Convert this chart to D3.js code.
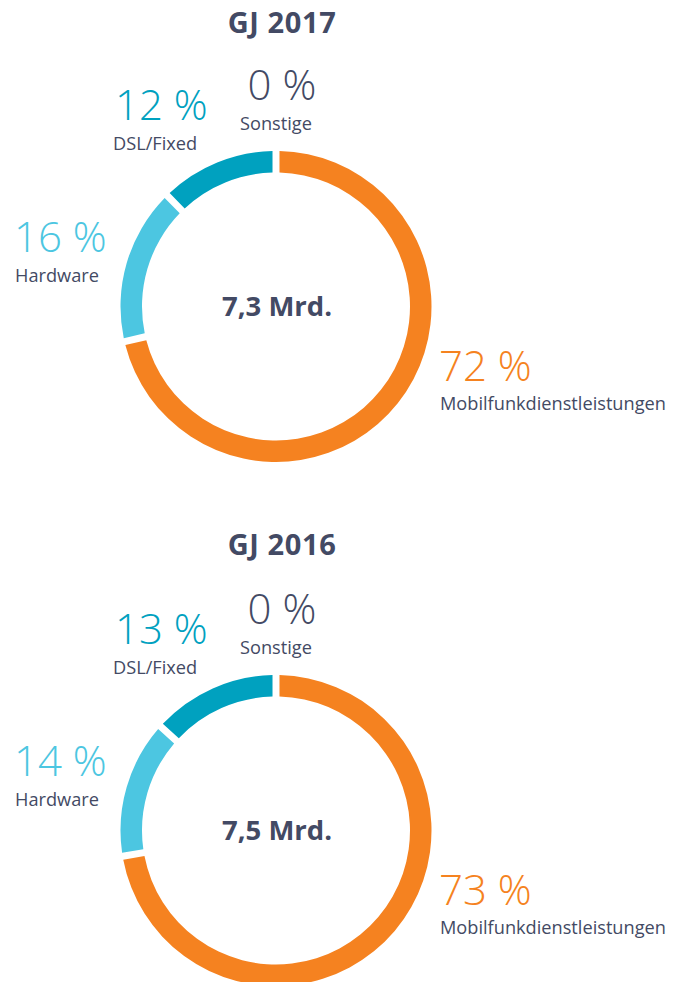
<!DOCTYPE html>
<html>
<head>
<meta charset="utf-8">
<script src="https://cdn.jsdelivr.net/npm/d3@7"></script>
<style>
  body { margin: 0; background: #fff; }
  text { font-family: "Open Sans", sans-serif; }
  .title, .total { font-weight: 700; fill: #434a64; }
  .pct { font-weight: 300; }
  .name { font-weight: 400; fill: #434a64; }
</style>
</head>
<body>
<div id="chart"></div>
<script>
// data
var years = ["GJ 2017", "GJ 2016"];
var totals = ["7,3 Mrd.", "7,5 Mrd."];
var categories = ["Mobilfunkdienstleistungen", "Hardware", "DSL/Fixed", "Sonstige"];
var shares2017 = [72, 16, 12, 0];
var shares2016 = [73, 14, 13, 0];
var allShares = [shares2017, shares2016];

var width = 688;
var height = 982;

var colScale = d3.scaleOrdinal()
  .domain(categories)
  .range(["#f58220", "#4cc6e1", "#00a1bf", "#434a64"]);

// label anchors relative to the donut centre
var labelPos = {
  "Mobilfunkdienstleistungen": {x: 163, y: 74, anchor: "start", dx: 1},
  "Hardware": {x: -262, y: -55, anchor: "start", dx: 1},
  "DSL/Fixed": {x: -161, y: -187, anchor: "start", dx: -2},
  "Sonstige": {x: 6, y: -207, anchor: "middle", dx: -6}
};

var outerR = 155.5, innerR = 134;
var panelStep = 524;

var svg = d3.select("#chart").append("svg")
  .attr("width", width)
  .attr("height", height);

var pie = d3.pie().sort(null).value(d => d.value).padAngle(0.034);
var arc = d3.arc().innerRadius(innerR).outerRadius(outerR);

years.forEach((yr, i) => {
  var cx = 276, cy = 306.5 + i * panelStep;
  var rows = categories.map((c, j) => ({name: c, value: allShares[i][j]}));

  var g = svg.append("g").attr("transform", `translate(${cx},${cy})`);

  svg.append("text")
    .attr("class", "title")
    .attr("x", 282)
    .attr("y", 33 + i * panelStep - (i ? 2 : 0))
    .attr("text-anchor", "middle")
    .style("font-size", "29px")
    .style("letter-spacing", "0.6px")
    .text(yr);

  g.selectAll("path.slice")
    .data(pie(rows.filter(d => d.value > 0)))
    .enter()
    .append("path")
    .attr("class", "slice")
    .attr("d", arc)
    .style("fill", d => colScale(d.data.name));

  g.append("text")
    .attr("class", "total")
    .attr("x", 1)
    .attr("y", 9)
    .attr("text-anchor", "middle")
    .style("font-size", "27.5px")
    .text(totals[i]);

  var labels = g.selectAll("g.label")
    .data(rows)
    .enter()
    .append("g")
    .attr("class", "label")
    .attr("transform", d => `translate(${labelPos[d.name].x},${labelPos[d.name].y})`);

  labels.append("text")
    .attr("class", "pct")
    .attr("text-anchor", d => labelPos[d.name].anchor)
    .style("font-size", "42px")
    .style("fill", d => colScale(d.name))
    .text(d => d.value + " %");

  labels.append("text")
    .attr("class", "name")
    .attr("x", d => labelPos[d.name].dx)
    .attr("y", d => d.name == "Mobilfunkdienstleistungen" ? 29 : 30)
    .attr("text-anchor", d => labelPos[d.name].anchor)
    .style("font-size", "18.2px")
    .text(d => d.name);
});
</script>
</body>
</html>
